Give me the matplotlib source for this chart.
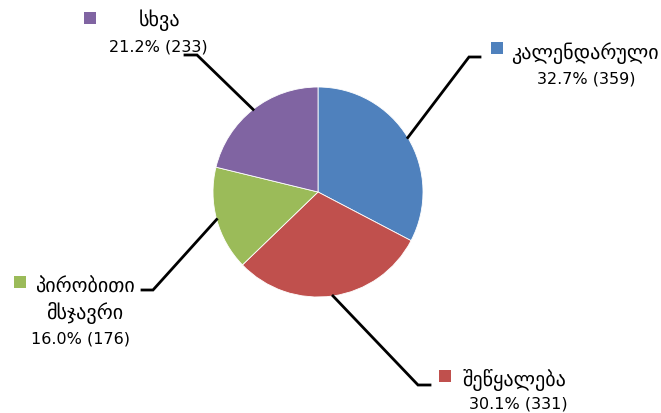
import numpy as np
import matplotlib.pyplot as plt

labels = ['კალენდარული', 'შეწყალება', 'პირობითი\nმსჯავრი', 'სხვა']
counts = [359, 331, 176, 233]
colors = ['#4F81BD', '#C0504D', '#9BBB59', '#8064A2']

W, H = 661, 414
fig = plt.figure(figsize=(W / 100, H / 100), dpi=100)
ax = fig.add_axes([0, 0, 1, 1])

cx, cy, r = 318, H - 193, 105
wedges, _ = ax.pie(counts, colors=colors, startangle=90, counterclock=False,
                   center=(cx, cy), radius=r,
                   wedgeprops=dict(edgecolor='white', linewidth=0.6))
ax.set_xlim(0, W)
ax.set_ylim(0, H)
ax.set_aspect('equal')
ax.axis('off')

# leader line elbows / ends and label layout (pixel coords from the top)
elbow = [(469, 58), (418, 386), (153, 291), (197, 56)]
tail = [480, 430, 142, 185]
marker_pos = [(497, 49), (445, 377), (20, 283), (90, 19)]
text_pos = [(585, 53), (514, 380), (85, 287), (160, 20)]
pct_pos = [(586, 79), (518, 404), (80, 339), (158, 47)]

total = sum(counts)
for i, w in enumerate(wedges):
    mid = np.deg2rad((w.theta1 + w.theta2) / 2)
    x0, y0 = cx + r * np.cos(mid), cy + r * np.sin(mid)
    ex, ey = elbow[i]
    ax.plot([x0, ex, tail[i]], [y0, H - ey, H - ey], color='black', lw=2,
            solid_joinstyle='miter')
    mx, my = marker_pos[i]
    ax.scatter([mx], [H - my], marker='s', s=70, color=colors[i], linewidths=0)
    lines = labels[i].split('\n')
    tx, ty = text_pos[i]
    for k, line in enumerate(lines):
        ax.text(tx, H - ty - 26 * k, line, ha='center', va='center', fontsize=14.5,
                family='DejaVu Sans')
    px, py = pct_pos[i]
    ax.text(px, H - py, f'{counts[i] / total * 100:.1f}% ({counts[i]})',
            ha='center', va='center', fontsize=11.5, family='DejaVu Sans')

plt.savefig('out.png', dpi=100)
